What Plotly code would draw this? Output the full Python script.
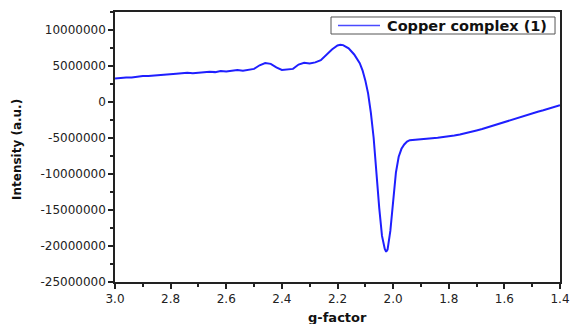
import plotly.graph_objects as go

g_factor = [3.00, 2.98, 2.96, 2.94, 2.92, 2.90, 2.88, 2.86, 2.84, 2.82, 2.80, 2.78, 2.76, 2.74,
            2.72, 2.70, 2.68, 2.66, 2.64, 2.62, 2.60, 2.58, 2.56, 2.54, 2.52, 2.50, 2.48, 2.46,
            2.44, 2.42, 2.40, 2.38, 2.36, 2.34, 2.32, 2.30, 2.28, 2.26, 2.24, 2.22, 2.20, 2.19,
            2.18, 2.16, 2.14, 2.12, 2.11, 2.10, 2.09, 2.08, 2.07, 2.06, 2.05, 2.04, 2.03, 2.025,
            2.02, 2.01, 2.00, 1.99, 1.98, 1.97, 1.96, 1.95, 1.94, 1.92, 1.90, 1.88, 1.86, 1.84,
            1.82, 1.80, 1.78, 1.76, 1.74, 1.72, 1.70, 1.68, 1.66, 1.64, 1.62, 1.60, 1.58, 1.56,
            1.54, 1.52, 1.50, 1.48, 1.46, 1.44, 1.42, 1.40]

intensity = [3270000, 3350000, 3420000, 3400000, 3550000, 3600000, 3620000, 3700000, 3750000,
             3820000, 3860000, 3920000, 3980000, 4050000, 4000000, 4100000, 4120000, 4200000,
             4150000, 4300000, 4250000, 4380000, 4450000, 4350000, 4450000, 4600000, 5100000,
             5400000, 5300000, 4800000, 4450000, 4500000, 4600000, 5200000, 5450000, 5350000,
             5500000, 5800000, 6500000, 7300000, 7850000, 7950000, 7900000, 7450000, 6600000,
             5400000, 4400000, 3000000, 1200000, -1500000, -5000000, -10500000, -14700000,
             -18600000, -20400000, -20800000, -20500000, -17900000, -13500000, -9800000,
             -7600000, -6500000, -5900000, -5500000, -5300000, -5250000, -5200000, -5050000,
             -5100000, -4950000, -4850000, -4800000, -4650000, -4500000, -4350000, -4150000,
             -3950000, -3750000, -3500000, -3300000, -3050000, -2800000, -2550000, -2300000,
             -2100000, -1850000, -1600000, -1350000, -1150000, -900000, -650000, -450000]

series_name = "Copper complex (1)"
x_ticks = [3.0, 2.8, 2.6, 2.4, 2.2, 2.0, 1.8, 1.6, 1.4]
x_tick_labels = ["3.0", "2.8", "2.6", "2.4", "2.2", "2.0", "1.8", "1.6", "1.4"]
y_ticks = [10000000, 5000000, 0, -5000000, -10000000, -15000000, -20000000, -25000000]
y_tick_labels = ["10000000", "5000000", "0", "-5000000", "-10000000", "-15000000",
                 "-20000000", "-25000000"]

line_color = "#1f1fff"

fig = go.Figure()
fig.add_trace(go.Scatter(x=g_factor, y=intensity, mode="lines", name=series_name,
                         line=dict(color=line_color, width=2), showlegend=False))

axis_common = dict(showline=True, linecolor="#222222", linewidth=1.5, mirror=True,
                   showgrid=False, zeroline=False, ticks="outside", ticklen=5,
                   tickwidth=1.5, tickcolor="#222222", automargin=False,
                   ticklabeloverflow="allow",
                   tickfont=dict(family="DejaVu Sans", size=12, color="#222222"))

fig.update_xaxes(range=[3.0, 1.4], tickvals=x_ticks, ticktext=x_tick_labels,
                 minor=dict(dtick=0.1, ticklen=3, tickcolor="#222222", ticks="outside", tickwidth=1.5),
                 **axis_common)
fig.update_yaxes(range=[-25000000, 12500000], tickvals=y_ticks, ticktext=y_tick_labels,
                 minor=dict(dtick=2500000, ticklen=3, tickcolor="#222222", ticks="outside", tickwidth=1.5),
                 **axis_common)

# legend box drawn in paper coordinates
shapes = [
    dict(type="rect", xref="paper", yref="paper", x0=0.4854, x1=0.9888, y0=0.9185, y1=0.9815,
         line=dict(color="#555555", width=1), fillcolor="white", layer="above"),
    dict(type="line", xref="paper", yref="paper", x0=0.5011, x1=0.5955, y0=0.950, y1=0.950,
         line=dict(color="#4a4aff", width=1.5), layer="above"),
]

fig.update_layout(
    width=570, height=324,
    margin=dict(l=115, r=10, t=12, b=42),
    paper_bgcolor="white", plot_bgcolor="white",
    showlegend=False,
    shapes=shapes,
    annotations=[
        dict(text="<b>" + series_name + "</b>", xref="paper", yref="paper", x=0.6067, y=0.950,
             showarrow=False, xanchor="left", yanchor="middle",
             font=dict(family="DejaVu Sans", size=14.5, color="#111111")),
        dict(text="<b>g-factor</b>", xref="paper", yref="paper", x=0.501, y=-0.133,
             showarrow=False, xanchor="center", yanchor="middle",
             font=dict(family="DejaVu Sans", size=13, color="#111111")),
        dict(text="<b>Intensity (a.u.)</b>", xref="paper", yref="paper", x=-0.2202, y=0.489,
             showarrow=False, xanchor="center", yanchor="middle", textangle=-90,
             font=dict(family="DejaVu Sans", size=12, color="#111111")),
    ],
)

fig.write_html("out.html")
